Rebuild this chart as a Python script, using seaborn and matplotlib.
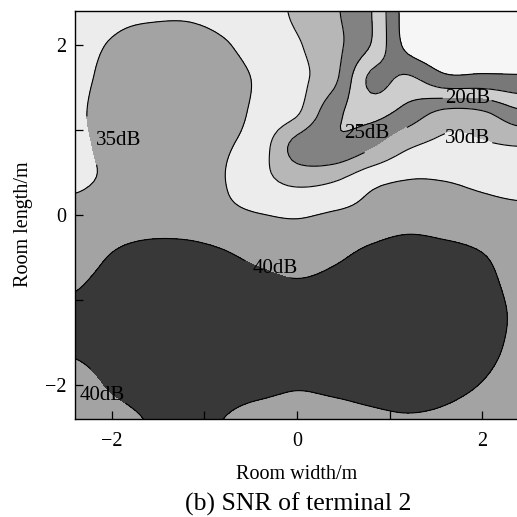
import numpy as np
import matplotlib
matplotlib.use("Agg")
import matplotlib.pyplot as plt
import seaborn as sns

# ---- data ----
room_width = [-2.4, -2.0, -1.6, -1.2, -0.8, -0.4, 0.0, 0.4, 0.8, 1.2, 1.6, 2.0, 2.4]
room_length = [-2.4, -2.0, -1.6, -1.2, -0.8, -0.4, 0.0, 0.4, 0.8, 1.2, 1.6, 2.0, 2.4]

# SNR (dB) at the grid nodes, one row per room_length value (bottom to top)
snr_y_m2p4 = [36.5, 38.5, 40.2, 41.0, 40.0, 38.6, 38.0, 38.5, 39.3, 39.7, 39.3, 38.0, 36.5]
snr_y_m2p0 = [38.0, 40.5, 41.8, 42.0, 41.5, 41.0, 40.3, 40.8, 41.5, 42.0, 41.3, 39.8, 37.5]
snr_y_m1p6 = [40.4, 42.0, 43.2, 43.5, 42.5, 41.5, 41.0, 41.7, 43.0, 43.5, 43.0, 41.5, 38.8]
snr_y_m1p2 = [40.8, 42.5, 44.0, 44.0, 43.0, 41.8, 41.2, 42.0, 43.5, 44.0, 43.5, 42.0, 39.3]
snr_y_m0p8 = [39.6, 41.5, 43.0, 43.0, 42.0, 41.0, 40.3, 41.0, 42.3, 43.0, 42.5, 41.2, 38.8]
snr_y_m0p4 = [37.5, 39.8, 41.0, 41.0, 40.0, 38.5, 37.5, 38.8, 40.5, 41.8, 41.0, 39.8, 38.0]
snr_y_0p0 = [36.0, 37.0, 37.5, 37.3, 36.2, 35.2, 34.6, 35.6, 36.5, 37.5, 37.0, 36.5, 36.0]
snr_y_0p4 = [34.6, 35.5, 36.5, 36.5, 35.2, 31.5, 29.0, 29.9, 33.8, 35.2, 35.0, 34.2, 33.5]
snr_y_0p8 = [34.5, 35.8, 37.5, 37.5, 35.6, 32.3, 23.0, 21.0, 24.5, 29.6, 31.4, 30.8, 30.2]
snr_y_1p2 = [34.5, 36.5, 38.5, 39.0, 37.0, 33.8, 30.5, 21.3, 18.5, 22.0, 26.5, 25.9, 21.3]
snr_y_1p6 = [34.3, 36.0, 38.0, 38.5, 37.0, 34.3, 31.3, 26.1, 14.0, 16.0, 11.5, 11.5, 11.0]
snr_y_2p0 = [34.0, 35.3, 37.0, 37.2, 35.5, 33.1, 30.5, 26.4, 19.8, 8.5, 6.0, 6.0, 6.5]
snr_y_2p4 = [33.0, 34.0, 34.2, 34.3, 33.5, 32.5, 29.1, 25.7, 20.2, 7.5, 6.0, 6.0, 6.5]

fill_levels = [-60, 10, 15, 20, 25, 30, 35, 40, 80]
band_colors = ["#f6f6f6", "#787878", "#cdcdcd", "#828282",
               "#b7b7b7", "#ececec", "#a3a3a3", "#383838"]
line_levels = [10, 15, 20, 25, 30, 35, 40]

label_levels = [20, 25, 30, 35, 40, 40]
label_texts = ["20dB", "25dB", "30dB", "35dB", "40dB", "40dB"]
label_on_line = [(1.84, 1.37), (0.95, 0.9), (1.84, 0.9), (-2.22, 0.88), (-0.3, -0.6), (-2.12, -2.08)]
label_at = [(1.84, 1.37), (0.75, 0.96), (1.84, 0.90), (-1.93, 0.88), (-0.24, -0.62), (-2.10, -2.12)]

x_ticks = [-2, 0, 2]
x_minor = [-1, 1]
y_ticks = [-2, 0, 2]
y_minor = [-1, 1]

# ---- styling ----
sns.set_style("ticks")
plt.rcParams["font.family"] = ["Liberation Serif", "DejaVu Serif"]
plt.rcParams["axes.unicode_minus"] = True


def smooth_axis(a, factor, axis):
    """Catmull-Rom resampling of a gridded field along one axis (for drawing)."""
    a = np.moveaxis(a, axis, -1)
    n = a.shape[-1]
    t = np.linspace(0, n - 1, (n - 1) * factor + 1)
    i = np.clip(np.floor(t).astype(int), 0, n - 2)
    s = t - i

    def g(k):
        return a[..., np.clip(k, 0, n - 1)]

    p0, p1, p2, p3 = g(i - 1), g(i), g(i + 1), g(i + 2)
    out = 0.5 * (2 * p1 + (p2 - p0) * s + (2 * p0 - 5 * p1 + 4 * p2 - p3) * s ** 2
                 + (3 * p1 - p0 - 3 * p2 + p3) * s ** 3)
    return np.moveaxis(out, -1, axis)


Z = np.array([snr_y_m2p4, snr_y_m2p0, snr_y_m1p6, snr_y_m1p2, snr_y_m0p8, snr_y_m0p4,
              snr_y_0p0, snr_y_0p4, snr_y_0p8, snr_y_1p2, snr_y_1p6, snr_y_2p0, snr_y_2p4])
f = 8
Zf = smooth_axis(smooth_axis(Z, f, 0), f, 1)
xf = np.linspace(room_width[0], room_width[-1], (len(room_width) - 1) * f + 1)
yf = np.linspace(room_length[0], room_length[-1], (len(room_length) - 1) * f + 1)
Xf, Yf = np.meshgrid(xf, yf)

fig = plt.figure(figsize=(5.17, 5.17), dpi=100)
ax = fig.add_axes([0.145, 0.189, 0.859, 0.789])
ax.set_axisbelow(False)

ax.contourf(Xf, Yf, Zf, levels=fill_levels, colors=band_colors)
line_sets = {}
for lev in line_levels:
    line_sets[lev] = ax.contour(Xf, Yf, Zf, levels=[lev], colors="k", linewidths=0.8)

for lev, txt, p_line, p_txt in zip(label_levels, label_texts, label_on_line, label_at):
    cs = line_sets[lev]
    before = len(cs.labelTexts) if hasattr(cs, "labelTexts") else 0
    cs.clabel(manual=[p_line], inline=True, inline_spacing=2,
              fmt={lev: txt}, fontsize=15, colors="k")
    for t in cs.labelTexts[before:]:
        t.set_rotation(0)
        t.set_position(p_txt)

ax.set_xlim(room_width[0], room_width[-1])
ax.set_ylim(room_length[0], room_length[-1])
ax.set_xticks(x_ticks)
ax.set_xticks(x_minor, minor=True)
ax.set_yticks(y_ticks)
ax.set_yticks(y_minor, minor=True)
ax.tick_params(which="both", direction="in", length=6, width=0.9, color="k",
               top=False, right=False, labelsize=14.5, labelcolor="k")
ax.tick_params(axis="x", which="both", pad=9)
ax.tick_params(axis="y", which="both", pad=6)
for sp in ax.spines.values():
    sp.set_visible(True)
    sp.set_color("k")
    sp.set_linewidth(1.0)
    sp.set_zorder(5)

ax.set_xlabel("Room width/m", fontsize=14.5, labelpad=10, color="k")
ax.set_ylabel("Room length/m", fontsize=14.5, color="k")
ax.yaxis.set_label_coords(-0.094, 0.478)
fig.text(0.576, 0.024, "(b) SNR of terminal 2", ha="center", va="center",
         fontsize=18.5, color="k")

fig.savefig("out.png", dpi=100)
